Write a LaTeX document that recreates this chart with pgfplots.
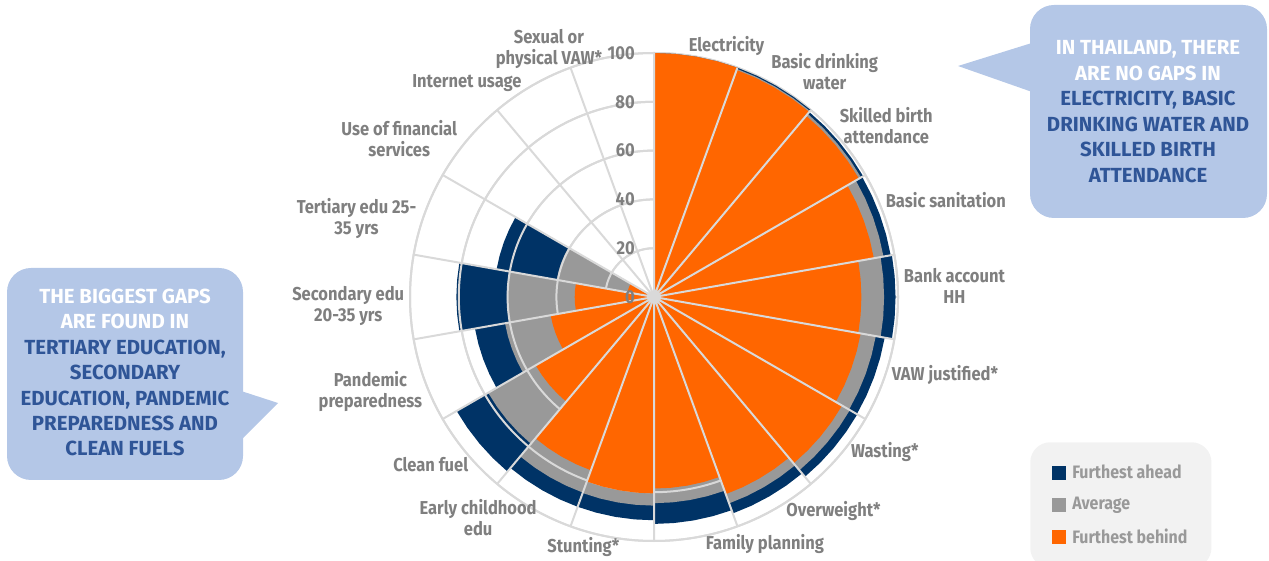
\documentclass[border=0pt]{standalone}
\usepackage{pgfplots}
\usepackage{pgfplotstable}
\pgfplotsset{compat=1.18}
\usepgfplotslibrary{polar}
\usepackage{fontspec}
\setmainfont{Fira Sans}[FakeStretch=0.885]
\newfontfamily\callfont{Fira Sans}
\providecommand\tick{0}
\definecolor{cahead}{HTML}{003366}
\definecolor{cavg}{HTML}{999999}
\definecolor{cbehind}{HTML}{FF6600}
\definecolor{gridc}{HTML}{D9D9D9}
\definecolor{labc}{HTML}{7F7F7F}
\definecolor{legc}{HTML}{999999}
\definecolor{callfill}{HTML}{B4C7E7}
\definecolor{calltext}{HTML}{2F5597}
\definecolor{legfill}{HTML}{F2F2F2}

\newcommand\RL[1]{\makebox[0pt][l]{\begin{tabular}{@{}c@{}}#1\end{tabular}}}
\newcommand\LL[1]{\makebox[0pt][r]{\begin{tabular}{@{}c@{}}#1\end{tabular}}}

% a = angle in degrees (90 = north; categories run clockwise), fa = furthest ahead, av = average, fb = furthest behind
\pgfplotstableread{
a fa av fb
90 100 100 100
85 100 100 100
80 100 100 100
75 100 100 100
70 100 100 100
70 100 99.5 99
65 100 99.5 99
60 100 99.5 99
55 100 99.5 99
50 100 99.5 99
50 99 98 97
45 99 98 97
40 99 98 97
35 99 98 97
30 99 98 97
30 98.5 95.5 91.5
25 98.5 95.5 91.5
20 98.5 95.5 91.5
15 98.5 95.5 91.5
10 98.5 95.5 91.5
10 99 94.3 85
5 99 94.3 85
0 99 94.3 85
355 99 94.3 85
350 99 94.3 85
350 96 92.3 86
345 96 92.3 86
340 96 92.3 86
335 96 92.3 86
330 96 92.3 86
330 96.2 92.7 89
325 96.2 92.7 89
320 96.2 92.7 89
315 96.2 92.7 89
310 96.2 92.7 89
310 94.4 90 86
305 94.4 90 86
300 94.4 90 86
295 94.4 90 86
290 94.4 90 86
290 93 84.5 78.5
285 93 84.5 78.5
280 93 84.5 78.5
275 93 84.5 78.5
270 93 84.5 78.5
270 91.5 85.5 80.5
265 91.5 85.5 80.5
260 91.5 85.5 80.5
255 91.5 85.5 80.5
250 91.5 85.5 80.5
250 91.5 85.3 75.6
245 91.5 85.3 75.6
240 91.5 85.3 75.6
235 91.5 85.3 75.6
230 91.5 85.3 75.6
230 93.4 78.5 56
225 93.4 78.5 56
220 93.4 78.5 56
215 93.4 78.5 56
210 93.4 78.5 56
210 74.5 62 43
205 74.5 62 43
200 74.5 62 43
195 74.5 62 43
190 74.5 62 43
190 81 60.3 32.5
185 81 60.3 32.5
180 81 60.3 32.5
175 81 60.3 32.5
170 81 60.3 32.5
170 65.5 40.5 11
165 65.5 40.5 11
160 65.5 40.5 11
155 65.5 40.5 11
150 65.5 40.5 11
150 0 0 0
130 0 0 0
110 0 0 0
90 0 0 0
}\datatable

\begin{document}
\begin{tikzpicture}
\useasboundingbox (0,0) rectangle (951.75pt,420pt);
\begin{scope}[x=0.75pt,y=-0.75pt,shift={(0pt,420pt)}]
  % left callout
  \fill[callfill, rounded corners=18pt] (7,268) rectangle (243,480);
  \fill[callfill] (238,390) -- (278,403) -- (238,443) -- cycle;
  \node[align=center, font=\callfont\fontsize{15.3}{19.1}\selectfont\bfseries, text=calltext] at (125,372.5)
    {\textcolor{white}{THE BIGGEST GAPS}\\\textcolor{white}{ARE FOUND IN}\\TERTIARY EDUCATION,\\SECONDARY\\EDUCATION, PANDEMIC\\PREPAREDNESS AND\\CLEAN FUELS};
  % right callout
  \fill[callfill, rounded corners=18pt] (1030,5) rectangle (1267,218);
  \fill[callfill] (1035,42) -- (958,66) -- (1035,93) -- cycle;
  \node[align=center, font=\callfont\fontsize{15.3}{19.1}\selectfont\bfseries, text=calltext] at (1148,111.5)
    {\textcolor{white}{IN THAILAND, THERE}\\\textcolor{white}{ARE NO GAPS IN}\\ELECTRICITY, BASIC\\DRINKING WATER AND\\SKILLED BIRTH\\ATTENDANCE};
\end{scope}

\begin{polaraxis}[
  at={(490.5pt,197.25pt)}, anchor=center,
  scale only axis, width=366pt, height=366pt,
  xmin=0, xmax=360, ymin=0, ymax=100,
  clip=false,
  xtick={2,22,...,342},
  xticklabels={\RL{Bank account\\HH}, \RL{Basic sanitation}, \RL{Skilled birth\\attendance}, \RL{Basic drinking\\water}, \RL{Electricity}, \LL{Sexual or\\physical VAW*}, \LL{Internet usage}, \LL{Use of financial\\services}, \LL{Tertiary edu 25-\\35 yrs}, \LL{Secondary edu\\20-35 yrs}, \LL{Pandemic\\preparedness}, \LL{Clean fuel}, \LL{Early childhood\\edu}, \LL{Stunting*}, \RL{Family planning}, \RL{Overweight*}, \RL{Wasting*}, \RL{VAW justified*}},
  xticklabel style={anchor=center, inner sep=0pt, font=\fontsize{14}{15.75}\selectfont\bfseries, text=labc, shift={(\tick:4.5pt)}, yshift={-0.4pt+2.25pt*sin(\tick)}},
  ytick={0,20,...,100},
  yticklabels={},
  ymajorgrids, xmajorgrids=false,
  major tick length=0pt,
  grid style={draw=gridc, line width=1.5pt},
  axis line style={draw=gridc, line width=1.5pt},
  legend style={at={(1.2705,0.2029)}, anchor=north west, draw=none, fill=legfill, rounded corners=15pt,
    inner xsep=16pt, inner ysep=15pt, row sep=8.6pt,
    font=\fontsize{13.5}{15}\selectfont\bfseries, nodes={text=legc},
    /tikz/every odd column/.append style={column sep=3pt}},
  legend cell align=left,
  legend image code/.code={\fill[#1, sharp corners] (canvas cs:x=0pt,y=-5.25pt) rectangle (canvas cs:x=10.5pt,y=5.25pt);},
]
\addplot[fill=cahead, draw=none] table[x=a,y=fa]{\datatable};
\addlegendentry{Furthest ahead}
\addplot[fill=cavg, draw=none] table[x=a,y=av]{\datatable};
\addlegendentry{Average}
% grid circles repeated above the two back series
\draw[gridc, line width=1.5pt] (axis cs:0,0) circle[radius=36.6pt];
\draw[gridc, line width=1.5pt] (axis cs:0,0) circle[radius=73.2pt];
\draw[gridc, line width=1.5pt] (axis cs:0,0) circle[radius=109.8pt];
\draw[gridc, line width=1.5pt] (axis cs:0,0) circle[radius=146.4pt];
\addplot[fill=cbehind, draw=none] table[x=a,y=fb]{\datatable};
\addlegendentry{Furthest behind}
\addplot[forget plot, draw=gridc, line width=1.5pt, line join=bevel] coordinates {
(10,100)(10,0)(30,100)(30,0)(50,100)(50,0)(70,100)(70,0)(90,100)(90,0)(110,100)(110,0)
(130,100)(130,0)(150,100)(150,0)(170,100)(170,0)(190,100)(190,0)(210,100)(210,0)(230,100)(230,0)
(250,100)(250,0)(270,100)(270,0)(290,100)(290,0)(310,100)(310,0)(330,100)(330,0)(350,100)(350,0)};
% radial tick numbers along the north ray
\node[anchor=east, inner sep=0pt, xshift=-14.25pt, font=\fontsize{14}{16}\selectfont\bfseries, text=labc] at (axis cs:90,0) {0};
\node[anchor=east, inner sep=0pt, xshift=-14.25pt, font=\fontsize{14}{16}\selectfont\bfseries, text=labc] at (axis cs:90,20) {20};
\node[anchor=east, inner sep=0pt, xshift=-14.25pt, font=\fontsize{14}{16}\selectfont\bfseries, text=labc] at (axis cs:90,40) {40};
\node[anchor=east, inner sep=0pt, xshift=-14.25pt, font=\fontsize{14}{16}\selectfont\bfseries, text=labc] at (axis cs:90,60) {60};
\node[anchor=east, inner sep=0pt, xshift=-14.25pt, font=\fontsize{14}{16}\selectfont\bfseries, text=labc] at (axis cs:90,80) {80};
\node[anchor=east, inner sep=0pt, xshift=-14.25pt, font=\fontsize{14}{16}\selectfont\bfseries, text=labc] at (axis cs:90,100) {100};
\end{polaraxis}
\end{tikzpicture}
\end{document}
